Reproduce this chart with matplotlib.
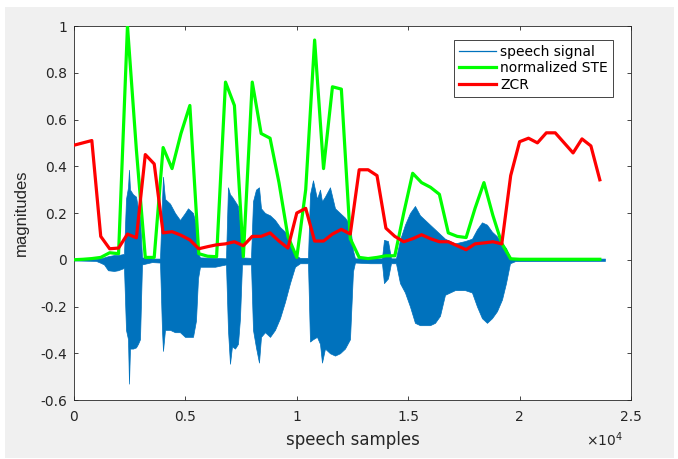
import matplotlib
matplotlib.use("Agg")
import numpy as np
import matplotlib.pyplot as plt
from matplotlib.lines import Line2D
from matplotlib.patches import Rectangle

plt.rcParams['font.family'] = ['DejaVu Sans']

# frame-level features, one value per 400-sample frame
frame_step = 400
ste = [0.0, 0.002, 0.005, 0.01, 0.03, 0.026, 1.0, 0.47, 0.01, 0.01,
       0.48, 0.39, 0.54, 0.66, 0.026, 0.015, 0.013, 0.76, 0.66, 0.013,
       0.76, 0.54, 0.52, 0.33, 0.10, 0.01, 0.30, 0.94, 0.39, 0.74,
       0.73, 0.09, 0.01, 0.005, 0.01, 0.017, 0.017, 0.20, 0.37, 0.33,
       0.31, 0.28, 0.115, 0.10, 0.095, 0.22, 0.33, 0.19, 0.07, 0.004,
       0.002, 0.002, 0.002, 0.002, 0.002, 0.002, 0.002, 0.002, 0.002, 0.002]
zcr = [0.49, 0.50, 0.51, 0.10, 0.047, 0.05, 0.11, 0.094, 0.45, 0.41,
       0.115, 0.12, 0.105, 0.085, 0.047, 0.056, 0.064, 0.068, 0.077, 0.06,
       0.10, 0.10, 0.115, 0.08, 0.05, 0.20, 0.22, 0.08, 0.08, 0.11,
       0.13, 0.11, 0.385, 0.385, 0.36, 0.135, 0.10, 0.077, 0.09, 0.107,
       0.09, 0.077, 0.077, 0.06, 0.043, 0.068, 0.072, 0.077, 0.068, 0.36,
       0.505, 0.52, 0.50, 0.543, 0.543, 0.50, 0.457, 0.517, 0.487, 0.342]

# speech waveform envelope (upper / lower peaks)
env_samples = [0, 987, 1167, 1346, 1526, 1795, 1975, 2244, 2334, 2424,
               2468, 2513, 2648, 2783, 2872, 2962, 3052, 3501, 3860, 3949,
               3994, 4084, 4309, 4533, 4757, 4982, 5116, 5341, 5475, 5565,
               5655, 6328, 6822, 6911, 7001, 7091, 7226, 7360, 7450, 7540,
               7944, 8034, 8168, 8303, 8393, 8572, 8797, 9021, 9245, 9470,
               9694, 9918, 10143, 10502, 10592, 10727, 10906, 11041, 11130, 11265,
               11489, 11714, 11938, 12162, 12387, 12521, 12611, 13284, 13823, 13913,
               14093, 14227, 14451, 14631, 14855, 15080, 15304, 15529, 15753, 15977,
               16202, 16426, 16651, 17100, 17549, 17862, 18087, 18311, 18536, 18760,
               18985, 19209, 19389, 19568, 19800, 23831]
env_hi = [0.003, 0.004, 0.006, 0.01, 0.015, 0.02, 0.02, 0.025, 0.26, 0.31,
          0.385, 0.30, 0.28, 0.27, 0.22, 0.18, 0.01, 0.005, 0.005, 0.25,
          0.355, 0.26, 0.24, 0.20, 0.17, 0.20, 0.22, 0.20, 0.15, 0.03,
          0.01, 0.008, 0.006, 0.31, 0.28, 0.27, 0.25, 0.23, 0.15, 0.01,
          0.008, 0.25, 0.30, 0.31, 0.22, 0.20, 0.19, 0.17, 0.14, 0.12,
          0.08, 0.02, 0.008, 0.008, 0.28, 0.34, 0.26, 0.30, 0.25, 0.27,
          0.31, 0.22, 0.20, 0.18, 0.15, 0.04, 0.006, 0.006, 0.006, 0.085,
          0.08, 0.006, 0.006, 0.085, 0.15, 0.20, 0.23, 0.19, 0.17, 0.15,
          0.13, 0.11, 0.09, 0.07, 0.08, 0.09, 0.13, 0.16, 0.15, 0.12,
          0.10, 0.07, 0.05, 0.01, 0.005, 0.005]
env_lo = [-0.003, -0.005, -0.012, -0.02, -0.045, -0.048, -0.045, -0.035, -0.30, -0.34,
          -0.53, -0.38, -0.38, -0.375, -0.36, -0.34, -0.02, -0.01, -0.012, -0.30,
          -0.39, -0.30, -0.30, -0.31, -0.31, -0.33, -0.33, -0.33, -0.26, -0.08,
          -0.03, -0.03, -0.02, -0.30, -0.445, -0.37, -0.38, -0.36, -0.25, -0.02,
          -0.02, -0.30, -0.375, -0.44, -0.33, -0.31, -0.33, -0.30, -0.25, -0.18,
          -0.10, -0.03, -0.015, -0.015, -0.35, -0.34, -0.33, -0.36, -0.44, -0.38,
          -0.40, -0.41, -0.40, -0.38, -0.34, -0.05, -0.012, -0.015, -0.015, -0.10,
          -0.08, -0.015, -0.015, -0.10, -0.14, -0.20, -0.27, -0.28, -0.28, -0.28,
          -0.27, -0.24, -0.15, -0.13, -0.13, -0.14, -0.20, -0.25, -0.27, -0.25,
          -0.22, -0.17, -0.10, -0.015, -0.006, -0.005]

x_ticks = [0, 5000, 10000, 15000, 20000, 25000]
x_tick_labels = ['0', '0.5', '1', '1.5', '2', '2.5']
y_ticks = [-0.6, -0.4, -0.2, 0, 0.2, 0.4, 0.6, 0.8, 1]
y_tick_labels = ['-0.6', '-0.4', '-0.2', '0', '0.2', '0.4', '0.6', '0.8', '1']

sig_color = '#0072BD'
text_color = '#262626'
frames = np.arange(len(ste)) * frame_step

fig = plt.figure(figsize=(6.78, 4.59), dpi=100)
fig.patch.set_facecolor('white')
fig.patches.append(Rectangle((5 / 678, 1 / 459), 669 / 678, 451 / 459,
                             transform=fig.transFigure, facecolor='#f0f0f0',
                             edgecolor='none', zorder=-10))

ax = fig.add_axes([74 / 678, 59 / 459, 557 / 678, 374 / 459])
ax.set_facecolor('white')

ax.fill_between(env_samples, env_lo, env_hi, color=sig_color, linewidth=0.5,
                edgecolor=sig_color, zorder=2)
ax.plot(frames, ste, color='#00ff00', linewidth=2.3, zorder=3)
ax.plot(frames, zcr, color='#ff0000', linewidth=2.3, zorder=4)

ax.set_xlim(0, 25000)
ax.set_ylim(-0.6, 1)
ax.set_xticks(x_ticks)
ax.set_xticklabels(x_tick_labels)
ax.set_yticks(y_ticks)
ax.set_yticklabels(y_tick_labels)
ax.tick_params(direction='in', length=3, width=0.6, colors=text_color,
               labelsize=10, top=True, right=True)
ax.tick_params(axis='x', pad=7)
ax.tick_params(axis='y', pad=5)
for side in ax.spines.values():
    side.set_color(text_color)
    side.set_linewidth(0.6)

ax.set_xlabel('speech samples', fontsize=12, color=text_color, labelpad=5)
ax.set_ylabel('magnitudes', fontsize=12, color=text_color, labelpad=8,
              family='Liberation Sans')
fig.text(604 / 678, 1 - 440 / 459, r'$\times10^{4}$', fontsize=10,
         color=text_color, ha='center', va='center')

handles = [Line2D([], [], color=sig_color, linewidth=0.9),
           Line2D([], [], color='#00ff00', linewidth=2.3),
           Line2D([], [], color='#ff0000', linewidth=2.3)]
leg = ax.legend(handles, ['speech signal', 'normalized STE', 'ZCR'],
                loc='upper right', bbox_to_anchor=(0.9677, 0.9626),
                borderaxespad=0, fontsize=10, handlelength=2.65,
                labelspacing=0.18, handletextpad=0.35, borderpad=0.35,
                fancybox=False, framealpha=1, edgecolor=text_color)
leg.get_frame().set_linewidth(0.6)

fig.savefig('out.png', dpi=100, facecolor=fig.get_facecolor())
